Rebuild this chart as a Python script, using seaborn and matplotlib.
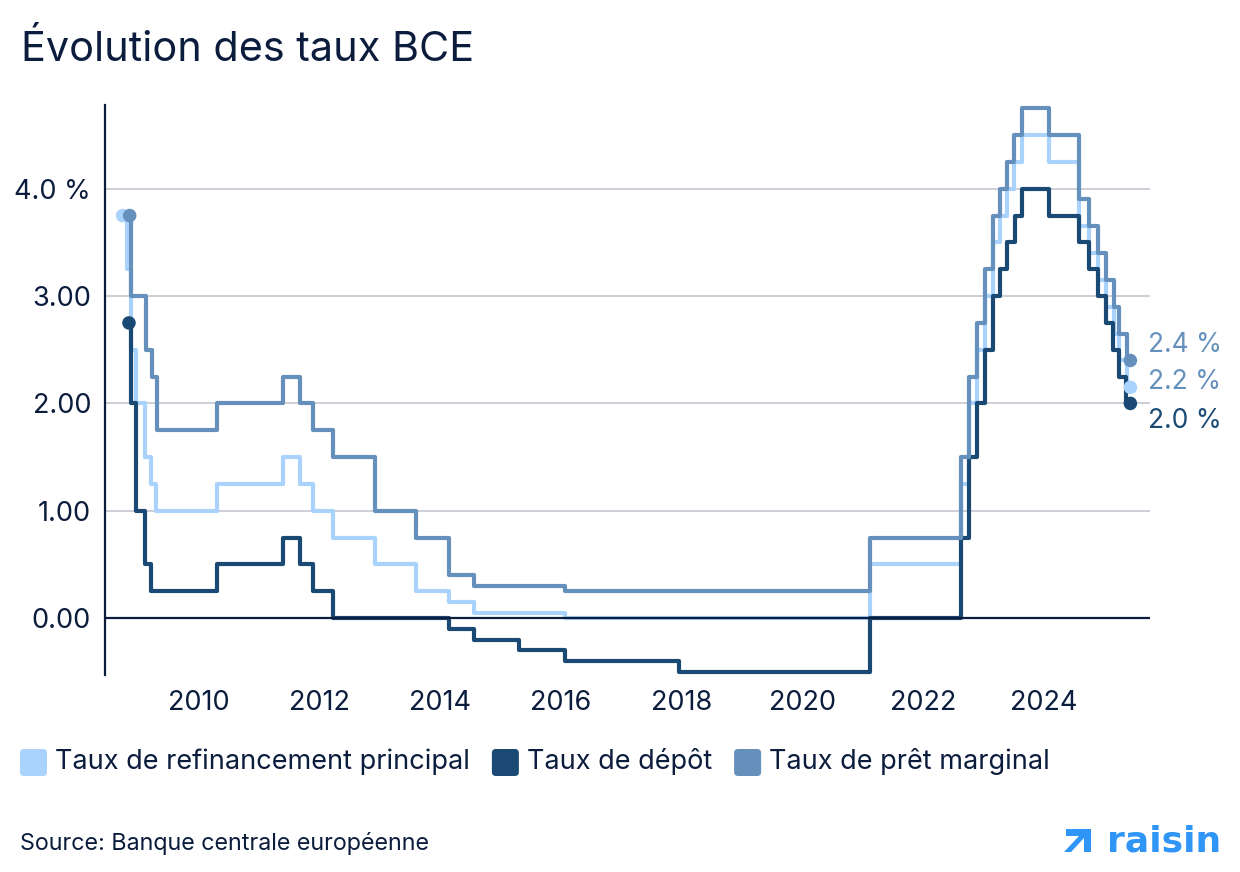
import matplotlib
matplotlib.use("Agg")
import matplotlib.pyplot as plt
import matplotlib.transforms as mtransforms
from matplotlib.patches import FancyBboxPatch, Polygon
import numpy as np
import pandas as pd
import seaborn as sns

# ---------------- data ----------------
series_names = ["Taux de refinancement principal", "Taux de dépôt", "Taux de prêt marginal"]

mro_dates = [2008.745, 2008.813, 2008.889, 2008.972, 2009.111, 2009.210, 2009.303,
             2010.313, 2011.396, 2011.682, 2011.902, 2012.233, 2012.924, 2013.603,
             2014.154, 2014.563, 2016.070, 2021.119, 2022.626, 2022.758, 2022.886,
             2023.023, 2023.151, 2023.272, 2023.392, 2023.508, 2023.631, 2024.083,
             2024.579, 2024.750, 2024.899, 2025.026, 2025.159, 2025.247, 2025.369]
mro_rates = [3.75, 3.25, 2.50, 2.00, 1.50, 1.25, 1.00,
             1.25, 1.50, 1.25, 1.00, 0.75, 0.50, 0.25,
             0.15, 0.05, 0.00, 0.50, 1.25, 2.00, 2.50,
             3.00, 3.50, 3.75, 4.00, 4.25, 4.50, 4.25,
             3.65, 3.40, 3.15, 2.90, 2.65, 2.40, 2.15]

dep_dates = [2008.851, 2008.879, 2008.972, 2009.111, 2009.210,
             2010.313, 2011.396, 2011.682, 2011.902, 2012.233,
             2014.154, 2014.563, 2015.308, 2016.070, 2017.950,
             2021.119, 2022.630, 2022.760, 2022.886, 2023.023,
             2023.151, 2023.272, 2023.392, 2023.512, 2023.634,
             2024.080, 2024.579, 2024.750, 2024.890, 2025.020,
             2025.145, 2025.247, 2025.365]
dep_rates = [2.75, 2.00, 1.00, 0.50, 0.25,
             0.50, 0.75, 0.50, 0.25, 0.00,
             -0.10, -0.20, -0.30, -0.40, -0.50,
             0.00, 0.75, 1.50, 2.00, 2.50,
             3.00, 3.25, 3.50, 3.75, 4.00,
             3.75, 3.50, 3.25, 3.00, 2.75,
             2.50, 2.25, 2.00]

mlf_dates = [2008.863, 2008.889, 2009.127, 2009.227, 2009.310,
             2010.313, 2011.396, 2011.682, 2011.902, 2012.233,
             2012.924, 2013.603, 2014.154, 2014.563, 2016.070,
             2021.119, 2022.626, 2022.758, 2022.886, 2023.023,
             2023.151, 2023.272, 2023.392, 2023.508, 2023.631,
             2024.083, 2024.579, 2024.750, 2024.899, 2025.026,
             2025.159, 2025.247, 2025.369]
mlf_rates = [3.75, 3.00, 2.50, 2.25, 1.75,
             2.00, 2.25, 2.00, 1.75, 1.50,
             1.00, 0.75, 0.40, 0.30, 0.25,
             0.75, 1.50, 2.25, 2.75, 3.25,
             3.75, 4.00, 4.25, 4.50, 4.75,
             4.50, 3.90, 3.65, 3.40, 3.15,
             2.90, 2.65, 2.40]

end_date = 2025.43
end_labels = ["2.2 %", "2.0 %", "2.4 %"]

year_ticks = [2010, 2012, 2014, 2016, 2018, 2020, 2022, 2024]
year_labels = ["2010", "2012", "2014", "2016", "2018", "2020", "2022", "2024"]
rate_ticks = [0, 1, 2, 3, 4]
rate_labels = ["0.00", "1.00", "2.00", "3.00", "4.0 %"]

# ---------------- style ----------------
colors = ["#a9d3fd", "#1a4a73", "#6590bb"]
label_colors = ["#6590bb", "#1a4a73", "#6590bb"]
navy = "#0b1c3d"
grid_col = "#c9cbd5"
logo_blue = "#2f95f6"

sns.set_style("white")
plt.rcParams["font.family"] = ["Inter", "DejaVu Sans"]

W, H = 1240, 872
fig = plt.figure(figsize=(W / 100, H / 100), dpi=100)
ax = fig.add_axes([105 / W, 1 - 675 / H, (1150 - 105) / W, (675 - 105) / H])

frames, pts = [], []
for name, d, r in zip(series_names, [mro_dates, dep_dates, mlf_dates],
                      [mro_rates, dep_rates, mlf_rates]):
    x = list(d) + [end_date]
    y = list(r) + [r[-1]]
    frames.append(pd.DataFrame({"date": x, "taux": y, "serie": name}))
    pts.append(pd.DataFrame({"date": [d[0], end_date], "taux": [r[0], r[-1]], "serie": name}))
df = pd.concat(frames, ignore_index=True)
df_pts = pd.concat(pts, ignore_index=True)
palette = dict(zip(series_names, colors))

sns.lineplot(data=df, x="date", y="taux", hue="serie", hue_order=series_names,
             palette=palette, drawstyle="steps-post", estimator=None, sort=False,
             linewidth=3.0, legend=False, ax=ax, zorder=2)
sns.scatterplot(data=df_pts, x="date", y="taux", hue="serie", hue_order=series_names,
                palette=palette, s=95, linewidth=0, legend=False, ax=ax, zorder=4)

ax.axhline(0, color=navy, lw=1.6, zorder=3)

ax.set_xlim(2008.454, 2025.755)
ax.set_ylim(-0.53, 4.78)
ax.set_xticks(year_ticks)
ax.set_xticklabels(year_labels)
ax.set_yticks(rate_ticks)
ax.set_yticklabels(rate_labels)
ax.tick_params(axis="both", length=0, labelsize=19.5, labelcolor=navy)
ax.tick_params(axis="x", pad=11)
ax.tick_params(axis="y", pad=10)
ax.yaxis.grid(True, color=grid_col, lw=1.3)
ax.xaxis.grid(False)
ax.set_axisbelow(True)
ax.set_xlabel("")
ax.set_ylabel("")
for s in ["top", "right", "bottom"]:
    ax.spines[s].set_visible(False)
ax.spines["left"].set_color(navy)
ax.spines["left"].set_linewidth(1.6)

# end labels
offsets = [(13, 4), (13, -13), (13, 11)]
for lab, r, col, off in zip(end_labels, [mro_rates, dep_rates, mlf_rates], label_colors, offsets):
    ax.annotate(lab, xy=(end_date, r[-1]), xytext=off, textcoords="offset points",
                ha="left", va="center", fontsize=19, color=col, annotation_clip=False)

# title
fig.text(21 / W, 1 - 61 / H, "Évolution des taux BCE", fontsize=29.8, color=navy,
         ha="left", va="baseline")

# legend (manual, rounded squares)
fig.canvas.draw()
renderer = fig.canvas.get_renderer()
px = mtransforms.IdentityTransform()
x = 20
for name, col in zip(series_names, colors):
    box = FancyBboxPatch((x, H - 776), 27, 27, boxstyle="round,pad=0,rounding_size=4",
                         transform=px, fc=col, ec="none")
    fig.patches.append(box)
    t = fig.text((x + 35) / W, 1 - 769 / H, name, fontsize=19.5, color=navy,
                 ha="left", va="baseline")
    bb = t.get_window_extent(renderer)
    x = bb.x1 + 22

# source
fig.text(20 / W, 1 - 850 / H, "Source: Banque centrale européenne", fontsize=16.8,
         color=navy, ha="left", va="baseline")

# logo: arrow mark + word
arrow = Polygon([(1064, H - 852), (1071, H - 852), (1084, H - 838), (1084, H - 852),
                 (1091, H - 852), (1091, H - 829), (1066, H - 829), (1066, H - 836),
                 (1079, H - 836)], closed=True, transform=px, fc=logo_blue, ec="none")
fig.patches.append(arrow)
fig.text(1221 / W, 1 - 851 / H, "raisin", fontsize=26, color=logo_blue, fontweight="bold",
         ha="right", va="baseline", family=["DejaVu Sans"])

fig.savefig("out.png", dpi=100)
